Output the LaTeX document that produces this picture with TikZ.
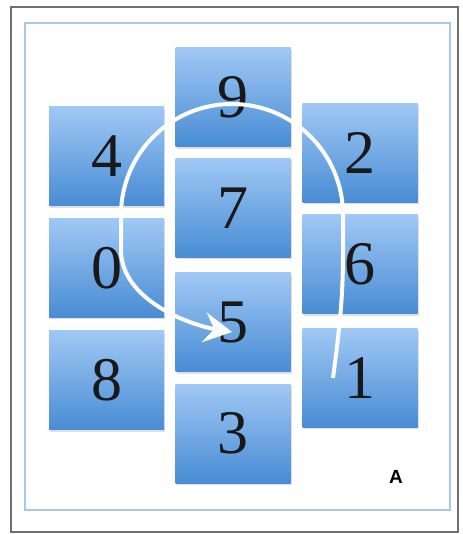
\documentclass[tikz,border=0pt]{standalone}
\usepackage{fontspec}
\setmainfont{Liberation Serif}
\newfontfamily\tagfont{Liberation Sans}
\usepackage{tikz}
\usetikzlibrary{positioning,arrows.meta,shadows}
\definecolor{cTop}{RGB}{160,200,245}
\definecolor{cBot}{RGB}{72,140,212}
\definecolor{cFrame}{RGB}{112,112,112}
\definecolor{cInner}{RGB}{168,200,232}

\begin{document}
\begin{tikzpicture}[x=1pt,y=1pt]
\tikzset{
  tile/.style={minimum width=115pt,minimum height=99pt,inner sep=0pt,top color=cTop,bottom color=cBot,
    drop shadow={shadow xshift=1pt,shadow yshift=-2pt,opacity=0.25},font=\fontsize{62}{62}\selectfont,text=black!90},
  ar/.style={-{Stealth[length=28pt,width=30pt,inset=10pt]},draw=white,line width=4pt}
}
\useasboundingbox (0,0) rectangle (462,534);
% frames
\draw[cFrame,line width=2.5pt,drop shadow={shadow xshift=1pt,shadow yshift=-1.5pt,opacity=0.3},fill=white] (11,2) rectangle (458,527);
\draw[cInner,line width=2pt] (25,24) rectangle (450,511);

% left column
\node[tile] (n4) at (106.5,377.5) {4};
\node[tile,below=12pt of n4] (n0) {0};
\node[tile,below=13pt of n0] (n8) {8};
% middle column
\node[tile] (n9) at (233,436.5) {9};
\node[tile,below=11pt of n9] (n7) {7};
\node[tile,below=15pt of n7] (n5) {5};
\node[tile,below=12pt of n5] (n3) {3};
% right column
\node[tile] (n2) at (360,381) {2};
\node[tile,below=12pt of n2] (n6) {6};
\node[tile,below=14pt of n6] (n1) {1};

\node[font=\tagfont\bfseries\fontsize{19}{19}\selectfont] (tagA) at (396,57) {A};

% path 1 -> 5
\coordinate (tail) at (333,156);
\coordinate (head) at (232,202);
\draw[ar] (tail) .. controls (338,195) and (343,230) .. (343,280)
  -- (343,319) arc[start angle=0,end angle=180,radius=111]
  -- (121,284) .. controls (121,234) and (190,209) .. (head);
\end{tikzpicture}
\end{document}
